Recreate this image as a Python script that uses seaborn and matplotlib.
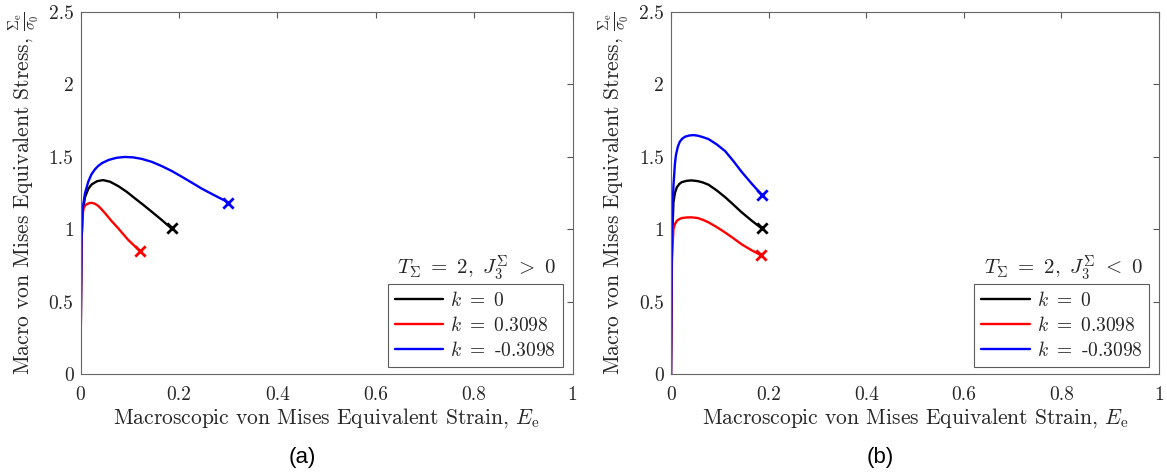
import numpy as np
import pandas as pd
import matplotlib
matplotlib.use("Agg")
import matplotlib.pyplot as plt
import seaborn as sns

# Panel (a): T = 2, J3 > 0
a_k0_x = [0, 0.001, 0.002, 0.004, 0.009, 0.016, 0.023, 0.034, 0.046, 0.060, 0.077, 0.094, 0.111, 0.128, 0.145, 0.165, 0.185]
a_k0_y = [0, 0.50, 0.90, 1.11, 1.22, 1.28, 1.31, 1.332, 1.339, 1.328, 1.297, 1.258, 1.212, 1.167, 1.12, 1.064, 1.005]
a_kp_x = [0, 0.001, 0.002, 0.004, 0.006, 0.009, 0.013, 0.018, 0.023, 0.029, 0.036, 0.043, 0.050, 0.063, 0.077, 0.087, 0.097, 0.109, 0.121]
a_kp_y = [0, 0.50, 0.90, 1.08, 1.143, 1.162, 1.173, 1.180, 1.182, 1.176, 1.161, 1.137, 1.110, 1.057, 1.005, 0.965, 0.926, 0.887, 0.850]
a_kn_x = [0, 0.001, 0.002, 0.004, 0.009, 0.016, 0.022, 0.029, 0.036, 0.044, 0.057, 0.073, 0.090, 0.107, 0.124, 0.145, 0.165, 0.186, 0.206, 0.226, 0.246, 0.270, 0.294, 0.300]
a_kn_y = [0, 0.50, 0.90, 1.131, 1.247, 1.330, 1.377, 1.412, 1.437, 1.457, 1.478, 1.493, 1.499, 1.496, 1.486, 1.465, 1.436, 1.401, 1.362, 1.322, 1.281, 1.238, 1.196, 1.178]

# Panel (b): T = 2, J3 < 0
b_k0_x = [0, 0.001, 0.002, 0.005, 0.008, 0.012, 0.017, 0.022, 0.032, 0.042, 0.055, 0.066, 0.077, 0.094, 0.111, 0.128, 0.145, 0.165, 0.186]
b_k0_y = [0, 0.50, 0.90, 1.186, 1.25, 1.29, 1.312, 1.325, 1.334, 1.337, 1.332, 1.322, 1.307, 1.267, 1.221, 1.169, 1.116, 1.060, 1.005]
b_kp_x = [0, 0.001, 0.002, 0.005, 0.008, 0.012, 0.017, 0.022, 0.032, 0.042, 0.055, 0.066, 0.077, 0.094, 0.111, 0.128, 0.145, 0.165, 0.185]
b_kp_y = [0, 0.45, 0.80, 1.00, 1.035, 1.058, 1.070, 1.077, 1.081, 1.082, 1.077, 1.064, 1.047, 1.014, 0.977, 0.937, 0.895, 0.855, 0.819]
b_kn_x = [0, 0.001, 0.002, 0.005, 0.008, 0.010, 0.014, 0.018, 0.023, 0.029, 0.037, 0.046, 0.056, 0.066, 0.077, 0.094, 0.111, 0.128, 0.145, 0.165, 0.186]
b_kn_y = [0, 0.55, 1.00, 1.30, 1.45, 1.51, 1.570, 1.604, 1.625, 1.639, 1.647, 1.650, 1.645, 1.635, 1.622, 1.585, 1.539, 1.470, 1.395, 1.316, 1.237]

labels = [r"$k\ =\ 0$", r"$k\ =\ 0.3098$", r"$k\ =$ -0.3098"]
colors = ["black", "#ff0000", "#0000ff"]
x_ticks = [0, 0.2, 0.4, 0.6, 0.8, 1]
x_ticklabels = ["0", "0.2", "0.4", "0.6", "0.8", "1"]
y_ticks = [0, 0.5, 1, 1.5, 2, 2.5]
y_ticklabels = ["0", "0.5", "1", "1.5", "2", "2.5"]

sns.set_theme(style="white")
plt.rcParams["font.family"] = ["cmr10", "DejaVu Serif"]
plt.rcParams["mathtext.fontset"] = "cm"
plt.rcParams["axes.unicode_minus"] = False

fig = plt.figure(figsize=(11.67, 4.76), dpi=100)
ax_a = fig.add_axes([80.5 / 1167, 102 / 476, 492 / 1167, 362 / 476])
ax_b = fig.add_axes([671 / 1167, 102 / 476, 488 / 1167, 362 / 476])

panels = [
    (ax_a, [(a_k0_x, a_k0_y), (a_kp_x, a_kp_y), (a_kn_x, a_kn_y)], r"$T_\Sigma\ =\ 2,\ J_3^\Sigma\ >\ 0$", "(a)", 302),
    (ax_b, [(b_k0_x, b_k0_y), (b_kp_x, b_kp_y), (b_kn_x, b_kn_y)], r"$T_\Sigma\ =\ 2,\ J_3^\Sigma\ <\ 0$", "(b)", 880),
]

for ax, curves, title, tag, tag_x in panels:
    for (xs, ys), lab, col in zip(curves, labels, colors):
        df = pd.DataFrame({"E": xs, "S": ys})
        sns.lineplot(data=df, x="E", y="S", sort=False, estimator=None,
                     color=col, lw=1.7, label=lab, ax=ax)
        sns.scatterplot(x=[xs[-1]], y=[ys[-1]], marker="x", color=col,
                        s=55, linewidth=2.0, ax=ax, zorder=4)
    ax.set_xlim(0, 1)
    ax.set_ylim(0, 2.5)
    ax.set_xticks(x_ticks)
    ax.set_xticklabels(x_ticklabels)
    ax.set_yticks(y_ticks)
    ax.set_yticklabels(y_ticklabels)
    ax.tick_params(direction="in", length=4, width=0.8, colors="#555555",
                   labelcolor="#262626", labelsize=14, top=True, right=True)
    ax.tick_params(axis="x", pad=9)
    ax.tick_params(axis="y", pad=5)
    for sp in ax.spines.values():
        sp.set_visible(True)
        sp.set_color("#666666")
        sp.set_linewidth(0.8)
    ax.set_xlabel(r"Macroscopic von Mises Equivalent Strain, $E_{\rm e}$",
                  fontsize=15.5, color="#262626", labelpad=1)
    ax.set_ylabel(r"Macro von Mises Equivalent Stress, $\frac{\Sigma_{\rm e}}{\sigma_0}$",
                  fontsize=15.5, color="#262626", labelpad=5)
    leg = ax.legend(loc="lower right", bbox_to_anchor=(0.98, 0.02),
                    fontsize=14, frameon=True, fancybox=False,
                    handlelength=2.5, handletextpad=0.35, borderpad=0.35,
                    labelspacing=0.32, borderaxespad=0)
    leg.get_frame().set_edgecolor("#333333")
    leg.get_frame().set_linewidth(0.8)
    ax.text(0.805, 0.293, title, transform=ax.transAxes, ha="center",
            va="center", fontsize=15, color="#262626")
    fig.text(tag_x / 1167, 1 - 458 / 476, tag, ha="center", va="center",
             fontsize=16, family="Liberation Sans", color="black")

fig.savefig("out.png", dpi=100)
